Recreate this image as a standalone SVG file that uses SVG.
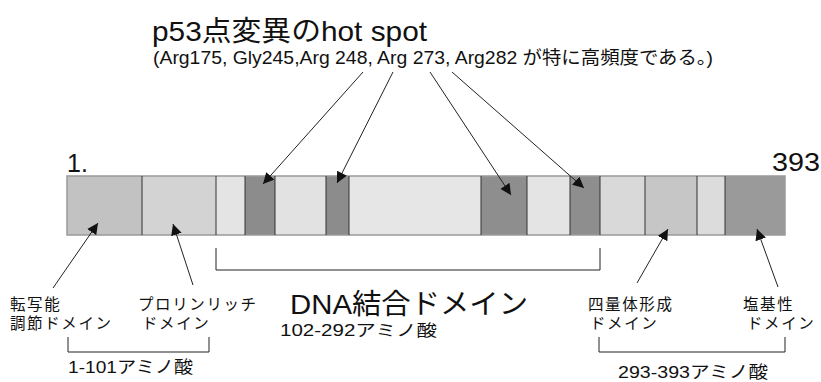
<svg xmlns="http://www.w3.org/2000/svg" width="821" height="382" viewBox="0 0 821 382">
<style>
.t{font-family:"Liberation Sans","Noto Sans CJK JP",sans-serif;fill:#111}
.j{font-family:"Liberation Sans","Noto Sans CJK JP",sans-serif;fill:#111;font-size:15.5px;letter-spacing:1.6px}
.seg{stroke:none}
.div{stroke:#333;stroke-width:1}
.ln{stroke:#222;stroke-width:1;fill:none}
.ar{stroke:#222;stroke-width:1;fill:none;marker-end:url(#ah)}
</style>
<defs>
<marker id="ah" viewBox="0 0 10 10" refX="10" refY="5" markerWidth="11" markerHeight="11" markerUnits="userSpaceOnUse" orient="auto">
<path d="M0,0 L10,5 L0,10 Z" fill="#111"/>
</marker>
</defs>
<rect width="821" height="382" fill="#fff"/>
<g id="title">
<text class="t" x="152" y="41" font-size="28" textLength="275" lengthAdjust="spacingAndGlyphs">p53点変異のhot spot</text>
<text class="t" x="153" y="64" font-size="18.5" textLength="560" lengthAdjust="spacingAndGlyphs">(Arg175, Gly245,Arg 248, Arg 273, Arg282 が特に高頻度である。)</text>
</g>
<g id="bar">
<rect class="seg" x="67" y="176" width="75" height="59" fill="#c2c2c2"/>
<rect class="seg" x="142" y="176" width="74" height="59" fill="#d3d3d3"/>
<rect class="seg" x="216" y="176" width="29" height="59" fill="#e4e4e4"/>
<rect class="seg" x="245" y="176" width="30" height="59" fill="#8c8c8c"/>
<rect class="seg" x="275" y="176" width="51" height="59" fill="#e2e2e2"/>
<rect class="seg" x="326" y="176" width="23" height="59" fill="#8c8c8c"/>
<rect class="seg" x="349" y="176" width="132" height="59" fill="#e6e6e6"/>
<rect class="seg" x="481" y="176" width="46" height="59" fill="#8e8e8e"/>
<rect class="seg" x="527" y="176" width="43" height="59" fill="#e4e4e4"/>
<rect class="seg" x="570" y="176" width="30" height="59" fill="#8e8e8e"/>
<rect class="seg" x="600" y="176" width="45" height="59" fill="#d9d9d9"/>
<rect class="seg" x="645" y="176" width="52" height="59" fill="#c6c6c6"/>
<rect class="seg" x="697" y="176" width="28" height="59" fill="#dcdcdc"/>
<rect class="seg" x="725" y="176" width="60" height="59" fill="#9a9a9a"/>
<rect x="67" y="176" width="718" height="59" fill="none" stroke="#9a9a9a" stroke-width="1.5"/>
<path class="div" d="M142,176V235M216,176V235M245,176V235M275,176V235M326,176V235M349,176V235M481,176V235M527,176V235M570,176V235M600,176V235M645,176V235M697,176V235M725,176V235"/>
<text class="t" x="67" y="172" font-size="25">1.</text>
<text class="t" x="772" y="171" font-size="25" textLength="48" lengthAdjust="spacingAndGlyphs">393</text>
</g>
<g id="connectors">
<line class="ar" x1="363" y1="72" x2="263" y2="184"/>
<line class="ar" x1="393" y1="72" x2="337" y2="183"/>
<line class="ar" x1="430" y1="72" x2="511" y2="195"/>
<line class="ar" x1="452" y1="72" x2="584" y2="188"/>
<line class="ar" x1="53" y1="288" x2="98" y2="223"/>
<line class="ar" x1="193" y1="285" x2="173" y2="224"/>
<line class="ar" x1="637" y1="283" x2="668" y2="229"/>
<line class="ar" x1="778" y1="287" x2="757" y2="229"/>
<path class="ln" d="M216,248V270H600V248"/>
<path class="ln" d="M68,337V352H209V337"/>
<path class="ln" d="M599,337V352H785V337"/>
</g>
<g id="transactivation">
<text class="j"><tspan x="10" y="310">転写能</tspan><tspan x="10" y="329">調節ドメイン</tspan></text>
</g>
<g id="proline">
<text class="j"><tspan x="138" y="310">プロリンリッチ</tspan><tspan x="142" y="329">ドメイン</tspan></text>
</g>
<g id="dna">
<text class="t" x="290" y="314" font-size="28" textLength="238" lengthAdjust="spacingAndGlyphs">DNA結合ドメイン</text>
<text class="t" x="280" y="336" font-size="16" textLength="157" lengthAdjust="spacingAndGlyphs">102-292アミノ酸</text>
</g>
<g id="range1">
<text class="t" x="68" y="373" font-size="17" textLength="125" lengthAdjust="spacingAndGlyphs">1-101アミノ酸</text>
</g>
<g id="tetramer">
<text class="j"><tspan x="588" y="310">四量体形成</tspan><tspan x="590" y="329">ドメイン</tspan></text>
</g>
<g id="basic">
<text class="j"><tspan x="743" y="310">塩基性</tspan><tspan x="747" y="329">ドメイン</tspan></text>
</g>
<g id="range2">
<text class="t" x="618" y="378" font-size="17" textLength="150" lengthAdjust="spacingAndGlyphs">293-393アミノ酸</text>
</g>
</svg>
